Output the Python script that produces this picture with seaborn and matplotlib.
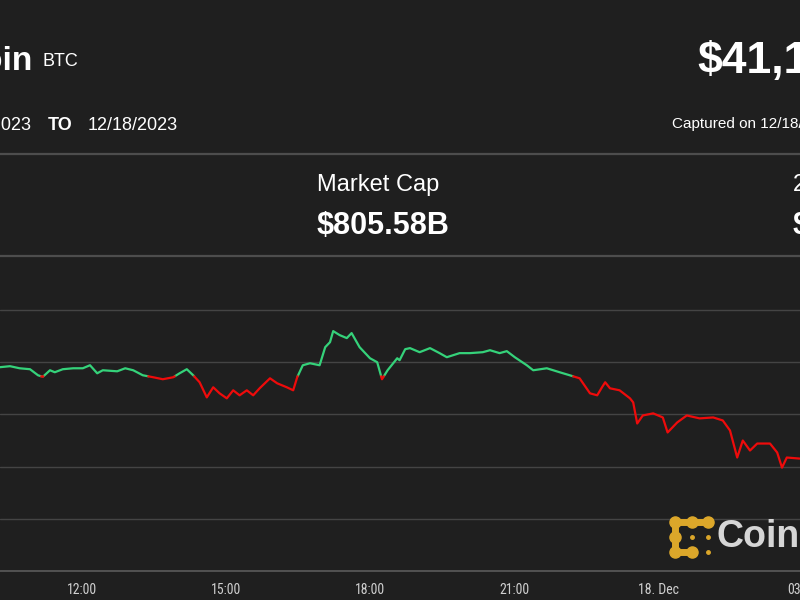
import pandas as pd
import seaborn as sns
import matplotlib.pyplot as plt
import matplotlib.dates as mdates
from matplotlib.lines import Line2D
from matplotlib.ticker import FuncFormatter
from matplotlib import font_manager

# --- Data (BTC price, 17-18 Dec 2023) ---
times = [
    "2023-12-17 10:17", "2023-12-17 10:30", "2023-12-17 10:42", "2023-12-17 10:55",
    "2023-12-17 11:05", "2023-12-17 11:11", "2023-12-17 11:20", "2023-12-17 11:26",
    "2023-12-17 11:36", "2023-12-17 11:49", "2023-12-17 12:01", "2023-12-17 12:10",
    "2023-12-17 12:19", "2023-12-17 12:26", "2023-12-17 12:44", "2023-12-17 12:54",
    "2023-12-17 13:04", "2023-12-17 13:16", "2023-12-17 13:29", "2023-12-17 13:41",
    "2023-12-17 13:54", "2023-12-17 14:02", "2023-12-17 14:11", "2023-12-17 14:19",
    "2023-12-17 14:27", "2023-12-17 14:36", "2023-12-17 14:44", "2023-12-17 14:52",
    "2023-12-17 15:01", "2023-12-17 15:09", "2023-12-17 15:17", "2023-12-17 15:26",
    "2023-12-17 15:34", "2023-12-17 15:42", "2023-12-17 15:55", "2023-12-17 16:04",
    "2023-12-17 16:16", "2023-12-17 16:24", "2023-12-17 16:29", "2023-12-17 16:36",
    "2023-12-17 16:45", "2023-12-17 16:57", "2023-12-17 17:04", "2023-12-17 17:10",
    "2023-12-17 17:14", "2023-12-17 17:22", "2023-12-17 17:31", "2023-12-17 17:37",
    "2023-12-17 17:47", "2023-12-17 18:00", "2023-12-17 18:09", "2023-12-17 18:15",
    "2023-12-17 18:22", "2023-12-17 18:34", "2023-12-17 18:37", "2023-12-17 18:44",
    "2023-12-17 18:50", "2023-12-17 19:02", "2023-12-17 19:15", "2023-12-17 19:27",
    "2023-12-17 19:36", "2023-12-17 19:52", "2023-12-17 20:05", "2023-12-17 20:21",
    "2023-12-17 20:30", "2023-12-17 20:42", "2023-12-17 20:51", "2023-12-17 21:01",
    "2023-12-17 21:16", "2023-12-17 21:24", "2023-12-17 21:41", "2023-12-17 21:57",
    "2023-12-17 22:14", "2023-12-17 22:22", "2023-12-17 22:35", "2023-12-17 22:44",
    "2023-12-17 22:50", "2023-12-17 22:54", "2023-12-17 23:00", "2023-12-17 23:12",
    "2023-12-17 23:25", "2023-12-17 23:29", "2023-12-17 23:34", "2023-12-17 23:41",
    "2023-12-17 23:54", "2023-12-18 00:06", "2023-12-18 00:12", "2023-12-18 00:24",
    "2023-12-18 00:36", "2023-12-18 00:52", "2023-12-18 01:09", "2023-12-18 01:21",
    "2023-12-18 01:30", "2023-12-18 01:39", "2023-12-18 01:46", "2023-12-18 01:55",
    "2023-12-18 02:04", "2023-12-18 02:20", "2023-12-18 02:29", "2023-12-18 02:35",
    "2023-12-18 02:41", "2023-12-18 02:57",
]
prices = [
    41952, 41962, 41942, 41933, 41875, 41860, 41923, 41904,
    41933, 41942, 41942, 41971, 41894, 41923, 41913, 41942,
    41923, 41875, 41856, 41837, 41856, 41894, 41933, 41875,
    41808, 41663, 41760, 41702, 41654, 41731, 41683, 41731,
    41683, 41750, 41846, 41798, 41760, 41731, 41856, 41971,
    41990, 41971, 42144, 42192, 42298, 42260, 42231, 42279,
    42144, 42038, 42000, 41837, 41923, 42038, 42019, 42125,
    42135, 42096, 42135, 42087, 42048, 42087, 42087, 42096,
    42115, 42087, 42106, 42048, 41971, 41923, 41942, 41904,
    41865, 41846, 41702, 41683, 41760, 41808, 41750, 41731,
    41654, 41615, 41413, 41490, 41510, 41471, 41327, 41423,
    41490, 41462, 41471, 41442, 41346, 41087, 41250, 41154,
    41221, 41221, 41135, 40990, 41087, 41077,
]
open_price = 41865  # reference level: green above, red below
price_ticks = [40000, 40500, 41000, 41500, 42000, 42500]
x_start = "2023-12-17 10:17:30"
x_end = "2023-12-18 03:47:30"  # axes run a little past the right edge

BG = "#1f1f1f"
GREEN = "#35d27a"
RED = "#ee0b0b"

# split the series into green / red runs at the reference level
t = pd.to_datetime(pd.Series(times))
p = pd.Series(prices, dtype=float)
rows = []
seg = 0
side = "up" if p[0] >= open_price else "down"
rows.append((t[0], p[0], seg, side))
for i in range(1, len(p)):
    s = "up" if p[i] >= open_price else "down"
    if s != side:
        frac = (open_price - p[i - 1]) / (p[i] - p[i - 1])
        tc = t[i - 1] + frac * (t[i] - t[i - 1])
        rows.append((tc, open_price, seg, side))
        seg += 1
        side = s
        rows.append((tc, open_price, seg, side))
    rows.append((t[i], p[i], seg, side))
df = pd.DataFrame(rows, columns=["time", "price", "segment", "side"])

sns.set_theme(style="dark", rc={
    "figure.facecolor": BG, "axes.facecolor": BG,
    "text.color": "white", "xtick.color": "#cfcfcf",
})
plt.rcParams["font.family"] = ["Liberation Sans", "DejaVu Sans"]

# condensed face for the axis labels, if one is installed
names = {f.name for f in font_manager.fontManager.ttflist}
tick_family = "DejaVu Sans"
for cand in ["Liberation Sans Narrow", "DejaVu Sans Condensed", "Roboto Condensed",
             "Open Sans Condensed"]:
    if cand in names:
        tick_family = cand
        break

fig = plt.figure(figsize=(8, 6), dpi=100)
ax = fig.add_axes([0, 29 / 600, 840 / 800, 271 / 600])

sns.lineplot(data=df, x="time", y="price", hue="side", units="segment",
             estimator=None, sort=False, palette={"up": GREEN, "down": RED},
             linewidth=1.6, legend=False, ax=ax)

ax.set_xlim(pd.Timestamp(x_start), pd.Timestamp(x_end))
ax.set_ylim(40000, 42596)
ax.set_yticks(price_ticks)
ax.set_yticklabels([])
ax.yaxis.grid(True, color="#444444", linewidth=1)
ax.xaxis.grid(False)
ax.set_xlabel("")
ax.set_ylabel("")
for sp in ["top", "left", "right"]:
    ax.spines[sp].set_visible(False)
ax.spines["bottom"].set_color("#5a5a5a")
ax.spines["bottom"].set_linewidth(1.2)

ax.xaxis.set_major_locator(mdates.HourLocator(byhour=[0, 3, 6, 9, 12, 15, 18, 21]))


def fmt(x, pos):
    d = mdates.num2date(x)
    return d.strftime("%d. %b") if d.hour == 0 else d.strftime("%H:%M")


ax.xaxis.set_major_formatter(FuncFormatter(fmt))
ax.tick_params(axis="x", length=0, pad=9, labelsize=10)
for lab in ax.get_xticklabels():
    lab.set_family(tick_family)
    lab.set_stretch("condensed")

# --- header ---
def fx(px):
    return px / 800


def fy(py):
    return 1 - py / 600


fig.text(fx(33), fy(62), "Bitcoin", ha="right", va="center", fontsize=24,
         fontweight="bold", color="white")
fig.text(fx(43), fy(61), "BTC", ha="left", va="center", fontsize=13, color="white")
fig.text(fx(32), fy(125), "12/17/2023", ha="right", va="center", fontsize=13,
         color="white")
fig.text(fx(48), fy(125), "TO", ha="left", va="center", fontsize=13,
         fontweight="bold", color="white")
fig.text(fx(88), fy(125), "12/18/2023", ha="left", va="center", fontsize=13,
         color="white")
fig.text(fx(697), fy(61), "$41,145.32", ha="left", va="center", fontsize=32,
         fontweight="bold", color="white")
fig.text(fx(672), fy(124), "Captured on 12/18/2023", ha="left", va="center",
         fontsize=11, color="white")
fig.text(fx(317), fy(185), "Market Cap", ha="left", va="center", fontsize=17,
         color="white")
fig.text(fx(317), fy(226), "$805.58B", ha="left", va="center", fontsize=22,
         fontweight="bold", color="white")
fig.text(fx(793), fy(185), "24h Volume", ha="left", va="center", fontsize=17,
         color="white")
fig.text(fx(793), fy(226), "$9.73B", ha="left", va="center", fontsize=22,
         fontweight="bold", color="white")

for yy in [154, 256]:
    fig.add_artist(Line2D([0, 1], [fy(yy), fy(yy)], color="#4d4d4d", linewidth=1.6))

# --- watermark logo ---
GOLD = "#dca72a"
fig.add_artist(Line2D([fx(708), fx(675), fx(675), fx(692)],
                      [fy(522), fy(522), fy(552), fy(552)], color=GOLD,
                      linewidth=5, solid_capstyle="round", solid_joinstyle="round"))
fig.add_artist(Line2D([fx(675), fx(692), fx(708), fx(675), fx(675), fx(692)],
                      [fy(522), fy(522), fy(522), fy(537), fy(552), fy(552)],
                      linestyle="none", marker="o", markersize=8, color=GOLD))
fig.add_artist(Line2D([fx(692), fx(708), fx(708)], [fy(537), fy(537), fy(552)],
                      linestyle="none", marker="o", markersize=2.5, color=GOLD))
fig.text(fx(716), fy(537), "CoinDesk", ha="left", va="center", fontsize=27,
         fontweight="bold", color="#d6d6d6")

fig.savefig("out.png", dpi=100, facecolor=BG)
